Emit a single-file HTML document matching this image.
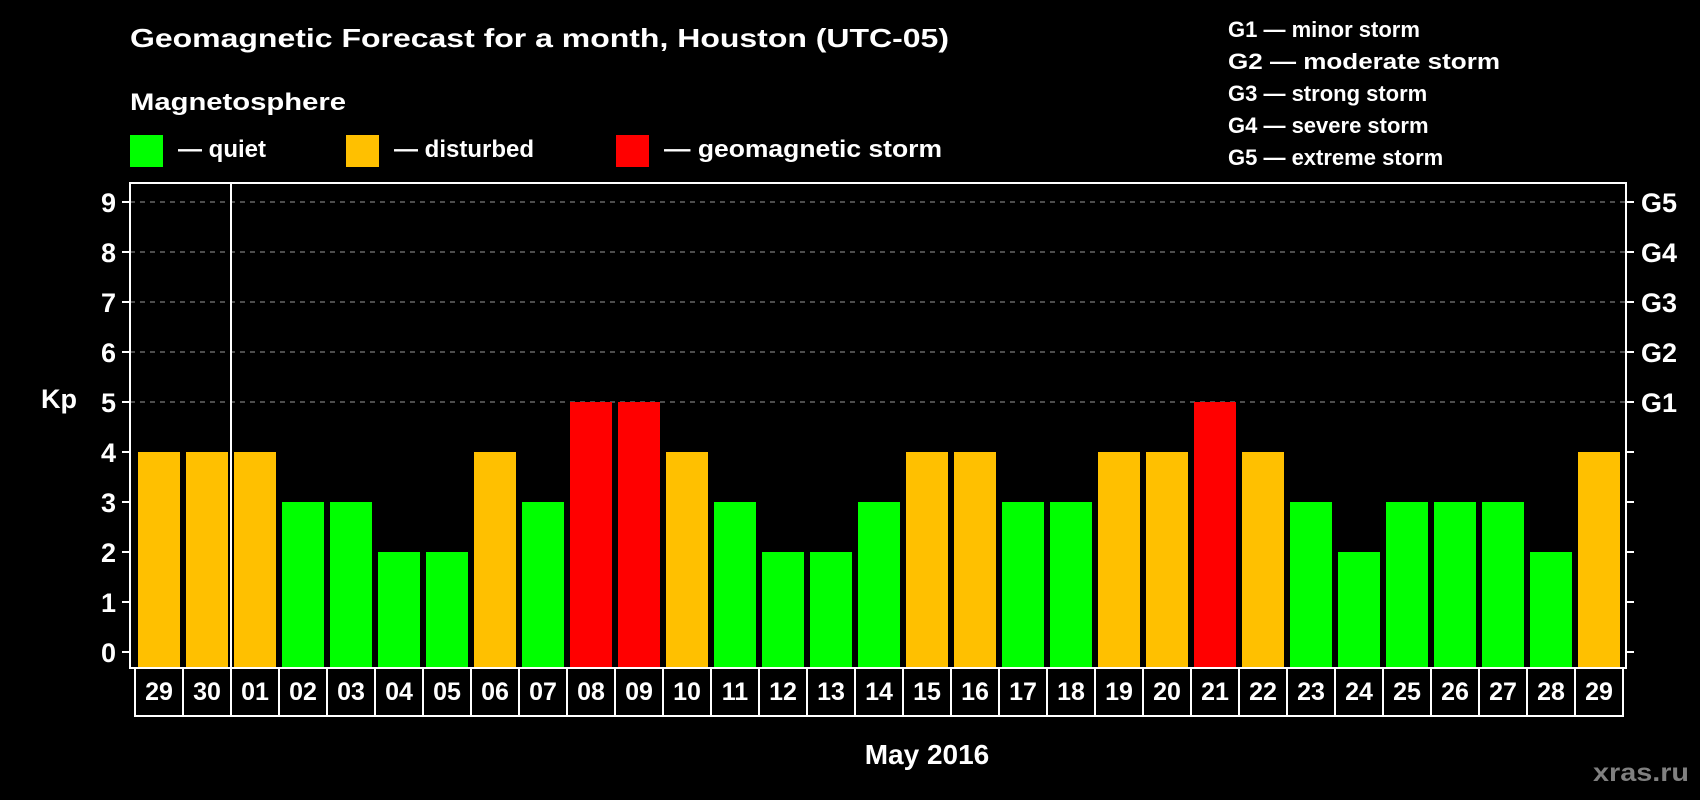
<!DOCTYPE html>
<html><head><meta charset="utf-8"><style>
html,body{margin:0;padding:0;background:#000;}
svg{display:block;font-family:"Liberation Sans",Arial,sans-serif;font-weight:bold;}
</style></head><body>
<svg id="chart" width="1700" height="800" viewBox="0 0 1700 800" xmlns="http://www.w3.org/2000/svg">
<rect x="0" y="0" width="1700" height="800" fill="#000"/>
<text x="130" y="47" font-size="26" fill="#fff" textLength="819" lengthAdjust="spacingAndGlyphs">Geomagnetic Forecast for a month, Houston (UTC-05)</text>
<text x="130" y="110" font-size="24" fill="#fff" textLength="216" lengthAdjust="spacingAndGlyphs">Magnetosphere</text>
<g>
<rect x="130" y="135" width="33" height="32" fill="#00ff00"/>
<text x="178" y="157" font-size="24" fill="#fff">— quiet</text></g>
<g>
<rect x="346" y="135" width="33" height="32" fill="#ffc000"/>
<text x="394" y="157" font-size="24" fill="#fff">— disturbed</text></g>
<g>
<rect x="616" y="135" width="33" height="32" fill="#ff0000"/>
<text x="664" y="157" font-size="24" fill="#fff" textLength="278" lengthAdjust="spacingAndGlyphs">— geomagnetic storm</text></g>
<g font-size="22" fill="#fff">
<text x="1228" y="37">G1 — minor storm</text>
<text x="1228" y="69" textLength="272" lengthAdjust="spacingAndGlyphs">G2 — moderate storm</text>
<text x="1228" y="101">G3 — strong storm</text>
<text x="1228" y="133">G4 — severe storm</text>
<text x="1228" y="165">G5 — extreme storm</text>
</g>
<g id="grid"></g>
<g id="bars"></g>
<g id="axes"></g>
<text x="41" y="408" font-size="27" fill="#fff">Kp</text>
<text x="927" y="764" font-size="28" fill="#fff" text-anchor="middle">May 2016</text>
<text x="1689" y="781" font-size="25" fill="#808080" text-anchor="end" textLength="96" lengthAdjust="spacingAndGlyphs">xras.ru</text>
</svg>
<script>
const categories = ["29","30","01","02","03","04","05","06","07","08","09","10","11","12","13","14","15","16","17","18","19","20","21","22","23","24","25","26","27","28","29"];
const kpValues = [4,4,4,3,3,2,2,4,3,5,5,4,3,2,2,3,4,4,3,3,4,4,5,4,3,2,3,3,3,2,4];
const yTicks = [0,1,2,3,4,5,6,7,8,9];
const gLabels = ["G1","G2","G3","G4","G5"];
const gridLevels = [5,6,7,8,9];

const NS = "http://www.w3.org/2000/svg";
const plotL = 130, plotR = 1626, plotT = 183, plotB = 668;
const y0 = 652, unit = 50;
const firstBar = 138, pitch = 48, barW = 42, cellL = 135;
function yScale(v){ return y0 - v*unit; }
function xScale(i){ return firstBar + i*pitch; }
function mk(tag, attrs, parent){ const e=document.createElementNS(NS,tag); for(const k in attrs) e.setAttribute(k,attrs[k]); parent.appendChild(e); return e; }
function colorFor(v){ return v>=5 ? "#ff0000" : (v>=4 ? "#ffc000" : "#00ff00"); }

const grid = document.getElementById("grid");
gridLevels.forEach(v=>{
  const l = mk("line",{x1:plotL,x2:plotR,y1:yScale(v),y2:yScale(v),stroke:"#9a9a9a","stroke-width":1,"stroke-dasharray":"5,5"},grid);
  
  
});

const bars = document.getElementById("bars");
kpValues.forEach((v,i)=>{
  const r = mk("rect",{x:xScale(i),y:yScale(v),width:barW,height:plotB-1-yScale(v),fill:colorFor(v)},bars);
  
  
});

const axes = document.getElementById("axes");
const box = mk("rect",{x:plotL,y:plotT,width:plotR-plotL,height:plotB-plotT,fill:"none",stroke:"#fff","stroke-width":2},axes);


yTicks.forEach(v=>{
  const t = mk("line",{x1:122,x2:plotL,y1:yScale(v),y2:yScale(v),stroke:"#fff","stroke-width":2},axes);
  
  
  const t2 = mk("line",{x1:plotR,x2:1634,y1:yScale(v),y2:yScale(v),stroke:"#fff","stroke-width":2},axes);
  
  
  const lb = mk("text",{x:116,y:yScale(v)+10,"font-size":27,fill:"#fff","text-anchor":"end"},axes);
  lb.textContent = v;
  
  
});
gLabels.forEach((g,i)=>{
  const lb = mk("text",{x:1641,y:yScale(5+i)+10,"font-size":27,fill:"#fff"},axes);
  lb.textContent = g;
  
  
});
const rowT = 668, rowB = 716;
const rowBox = mk("rect",{x:cellL,y:rowT,width:categories.length*pitch,height:rowB-rowT,fill:"none",stroke:"#fff","stroke-width":2},axes);


categories.forEach((c,i)=>{
  const x = cellL + i*pitch;
  if(i>0){
    const d = mk("line",{x1:x,x2:x,y1:rowT,y2:rowB,stroke:"#fff","stroke-width":2},axes);
    
    
  }
  const t = mk("text",{x:x+pitch/2,y:700,"font-size":25,fill:"#fff","text-anchor":"middle"},axes);
  t.textContent = c;
  
  
});
const monthSep = mk("line",{x1:cellL+2*pitch,x2:cellL+2*pitch,y1:plotT,y2:rowB,stroke:"#fff","stroke-width":2},axes);


</script>
</body></html>
